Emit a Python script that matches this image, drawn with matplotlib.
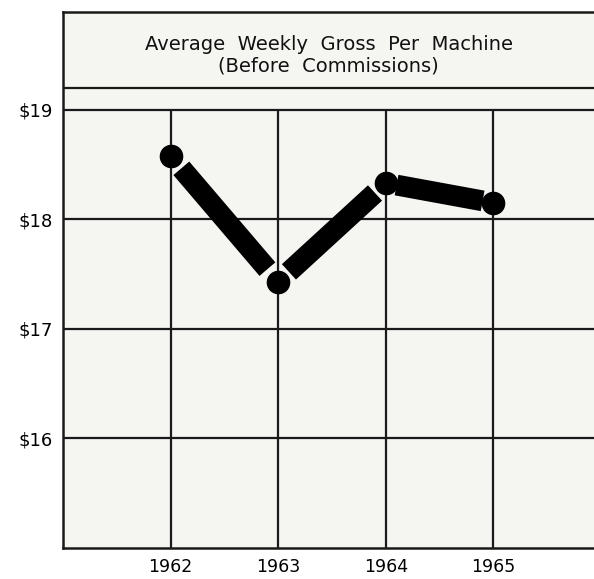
import numpy as np
import matplotlib.pyplot as plt

years = [1962, 1963, 1964, 1965]
gross = [18.58, 17.43, 18.33, 18.15]
y_ticks = [16, 17, 18, 19]
y_labels = ["$16", "$17", "$18", "$19"]
title = "Average  Weekly  Gross  Per  Machine\n(Before  Commissions)"

fig = plt.figure(figsize=(5.94, 5.79), dpi=100)
ax = fig.add_axes([0.106, 0.0535, 0.894, 0.9255])
ax.set_facecolor("#f5f5f2")
ax.set_xlim(1961, 1965.935)
ax.set_ylim(15, 19.89)

# grid: horizontal lines full width, vertical ones stop at $19
for y in y_ticks:
    ax.axhline(y, color="#1a1a1a", lw=1.6, zorder=1)
ax.axhline(19.2, color="#1a1a1a", lw=1.6, zorder=1)
ax.vlines(years, 15, 19, color="#1a1a1a", lw=1.6, zorder=1)

# thick segments with gaps near the dots
x = np.array(years, dtype=float)
y = np.array(gross)
f = 0.1
for i in range(len(x) - 1):
    x0 = x[i] + f * (x[i + 1] - x[i])
    x1 = x[i] + (1 - f) * (x[i + 1] - x[i])
    y0 = y[i] + f * (y[i + 1] - y[i])
    y1 = y[i] + (1 - f) * (y[i + 1] - y[i])
    ax.plot([x0, x1], [y0, y1], color="black", lw=15, solid_capstyle="butt", zorder=3)
ax.plot(x, y, "o", color="black", ms=16, zorder=4)

ax.text(1963.47, 19.5, title, ha="center", va="center", fontsize=14,
        linespacing=1.15, color="#111111")

ax.set_yticks(y_ticks)
ax.set_yticklabels(y_labels, fontsize=13)
ax.set_xticks(years)
ax.set_xticklabels([str(v) for v in years], fontsize=12.5)
ax.tick_params(axis="both", length=0)
ax.tick_params(axis="y", pad=7)
ax.tick_params(axis="x", pad=7)

for side in ["left", "bottom", "top"]:
    ax.spines[side].set_linewidth(1.8)
    ax.spines[side].set_color("#1a1a1a")
ax.spines["right"].set_visible(False)

fig.savefig("out.png", dpi=100)
